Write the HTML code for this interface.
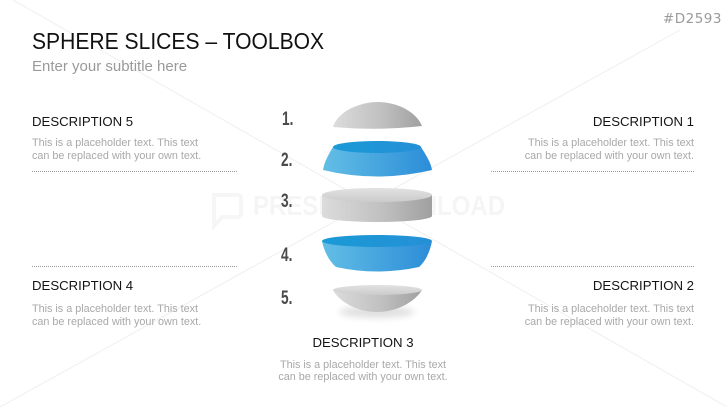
<!DOCTYPE html>
<html><head><meta charset="utf-8">
<style>
html,body{margin:0;padding:0;background:#fff;}
#s{position:relative;width:727px;height:409px;overflow:hidden;background:#fff;font-family:"Liberation Sans",sans-serif;}
.a{position:absolute;white-space:nowrap;}
.h{font-size:13.2px;line-height:13.2px;color:#141414;}
.b{font-size:10.8px;line-height:12.8px;color:#a8a8a8;}
.r{text-align:right;}
.num{font-family:"Liberation Sans",sans-serif;font-weight:bold;font-size:19.5px;line-height:19.5px;color:#4a4a4a;transform:scaleX(0.7);transform-origin:0 0;}
</style></head><body>
<div id="s">
<svg width="727" height="409" style="position:absolute;left:0;top:0" xmlns="http://www.w3.org/2000/svg">
<defs>
<linearGradient id="g" x1="0" y1="0" x2="1" y2="0"><stop offset="0" stop-color="#dcdcdc"/><stop offset="0.55" stop-color="#c0c0c0"/><stop offset="1" stop-color="#a0a0a0"/></linearGradient>
<linearGradient id="gt" x1="0" y1="0" x2="0" y2="1"><stop offset="0" stop-color="#e2e2e2"/><stop offset="1" stop-color="#cbcbcb"/></linearGradient>
<linearGradient id="bl" x1="0" y1="0" x2="1" y2="0"><stop offset="0" stop-color="#63bee5"/><stop offset="1" stop-color="#2b8dd8"/></linearGradient>
<linearGradient id="bt" x1="0" y1="0" x2="1" y2="0"><stop offset="0" stop-color="#1a9ad6"/><stop offset="1" stop-color="#2590d6"/></linearGradient>
<filter id="bf" x="-50%" y="-200%" width="200%" height="500%"><feGaussianBlur stdDeviation="3.5"/></filter>
</defs>
<line x1="13" y1="0" x2="727" y2="407" stroke="#efefef" stroke-width="1"/>
<line x1="680" y1="30" x2="0" y2="407" stroke="#efefef" stroke-width="1"/>
<!-- watermark -->
<path d="M214,195 h24 a3,3 0 0 1 3,3 v16 a3,3 0 0 1 -3,3 h-16 l-8,9 z" fill="none" stroke="#f6f6f6" stroke-width="4"/>
<text x="253" y="215" font-family="Liberation Sans" font-weight="bold" font-size="28" fill="#f5f5f5" textLength="252" lengthAdjust="spacingAndGlyphs">PRESENTATIONLOAD</text>
<!-- dotted lines -->
<line x1="32" y1="171.5" x2="237" y2="171.5" stroke="#9a9a9a" stroke-width="1" stroke-dasharray="1,1"/>
<line x1="491" y1="171.5" x2="695" y2="171.5" stroke="#9a9a9a" stroke-width="1" stroke-dasharray="1,1"/>
<line x1="32" y1="266.5" x2="237" y2="266.5" stroke="#9a9a9a" stroke-width="1" stroke-dasharray="1,1"/>
<line x1="491" y1="266.5" x2="695" y2="266.5" stroke="#9a9a9a" stroke-width="1" stroke-dasharray="1,1"/>
<!-- slice 1 -->
<path d="M333,127 C338,111 360,102 378,102 C396,102 416,111 422,126 Q378,131 333,127 Z" fill="url(#g)"/>
<!-- slice 2 -->
<path d="M333,147 C328,155 324,163 323,170 Q377,183 432,170 C431,163 426,155 421,147 Z" fill="url(#bl)"/>
<ellipse cx="377" cy="147" rx="44" ry="6" fill="url(#bt)"/>
<!-- slice 3 -->
<path d="M322,195 L322,216 A55,6 0 0 0 432,216 L432,195 Z" fill="url(#g)"/>
<ellipse cx="377" cy="195" rx="55" ry="7" fill="url(#gt)"/>
<!-- slice 4 -->
<path d="M322,241 C324,252 330,262 336,267 Q377,276 419,267 C425,262 430,252 432,241 Z" fill="url(#bl)"/>
<ellipse cx="377" cy="241" rx="55" ry="6" fill="url(#bt)"/>
<!-- slice 5 -->
<ellipse cx="377" cy="312" rx="38" ry="6" fill="#000" opacity="0.12" filter="url(#bf)"/>
<path d="M333,290 C338,300 355,312 377,312 C399,312 416,300 422,290 Z" fill="url(#g)"/>
<ellipse cx="377.5" cy="290" rx="44.5" ry="5" fill="url(#gt)"/>
</svg>

<div class="a" style="left:32px;top:29.5px;font-size:23.5px;line-height:23.5px;color:#111;transform:scaleX(0.897);transform-origin:0 0;">SPHERE SLICES – TOOLBOX</div>
<div class="a" style="left:32px;top:59px;font-size:15px;line-height:15px;color:#9a9a9a;">Enter your subtitle here</div>
<div class="a" style="right:5px;top:13px;font-family:'DejaVu Sans',sans-serif;font-size:13.5px;line-height:13.5px;color:#9a9a9a;letter-spacing:0.5px;">#D2593</div>

<div class="a num" style="left:282px;top:109.5px;">1.</div>
<div class="a num" style="left:281px;top:150.5px;">2.</div>
<div class="a num" style="left:281px;top:191.5px;">3.</div>
<div class="a num" style="left:281px;top:245.5px;">4.</div>
<div class="a num" style="left:281px;top:288.5px;">5.</div>

<div class="a h" style="left:32px;top:114.5px;">DESCRIPTION 5</div>
<div class="a b" style="left:32px;top:137px;">This is a placeholder text. This text<br>can be replaced with your own text.</div>

<div class="a h r" style="right:33px;top:114.5px;">DESCRIPTION 1</div>
<div class="a b r" style="right:33px;top:137px;">This is a placeholder text. This text<br>can be replaced with your own text.</div>

<div class="a h" style="left:32px;top:279px;">DESCRIPTION 4</div>
<div class="a b" style="left:32px;top:303px;">This is a placeholder text. This text<br>can be replaced with your own text.</div>

<div class="a h r" style="right:33px;top:279px;">DESCRIPTION 2</div>
<div class="a b r" style="right:33px;top:303px;">This is a placeholder text. This text<br>can be replaced with your own text.</div>

<div class="a h" style="left:263px;width:200px;text-align:center;top:335.5px;">DESCRIPTION 3</div>
<div class="a b" style="left:213px;width:300px;text-align:center;top:358.5px;">This is a placeholder text. This text<br>can be replaced with your own text.</div>
</div>
</body></html>
